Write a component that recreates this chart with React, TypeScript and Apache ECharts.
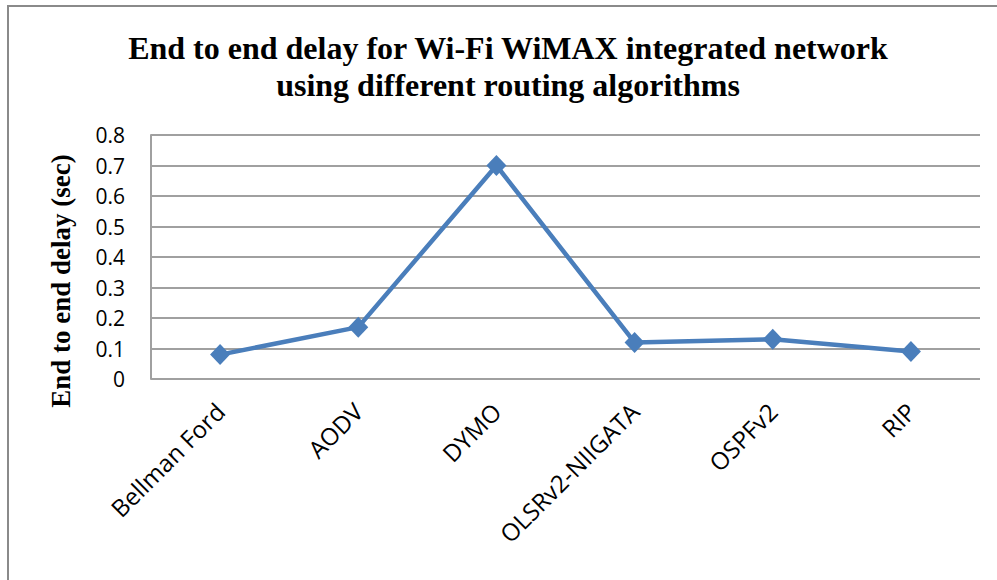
import React, { useEffect, useRef } from "react";
import * as echarts from "echarts";

const categories = ["Bellman Ford", "AODV", "DYMO", "OLSRv2-NIIGATA", "OSPFv2", "RIP"];
const delayValues = [0.08, 0.17, 0.7, 0.12, 0.13, 0.09];
const yTicks = [0, 0.1, 0.2, 0.3, 0.4, 0.5, 0.6, 0.7, 0.8];
const titleLines = ["End to end delay for Wi-Fi WiMAX integrated network", "using different routing algorithms"];
const yAxisTitle = "End to end delay (sec)";

export default function App() {
  const ref = useRef<HTMLDivElement>(null);
  useEffect(() => {
    document.body.style.margin = "0";
    const chart = echarts.init(ref.current!, null, { renderer: "svg" });
    chart.setOption({
      animation: false,
      backgroundColor: "#ffffff",
      graphic: [
        {
          type: "rect",
          shape: { x: 8, y: 6, width: 1200, height: 1000 },
          style: { fill: "none", stroke: "#8a8a8a", lineWidth: 2 },
          silent: true,
        },
        {
          type: "text",
          x: 508,
          y: 48,
          style: {
            text: titleLines[0],
            font: "bold 32px 'Liberation Serif', serif",
            fill: "#000",
            align: "center",
            verticalAlign: "middle",
          },
        },
        {
          type: "text",
          x: 508,
          y: 85,
          style: {
            text: titleLines[1],
            font: "bold 32px 'Liberation Serif', serif",
            fill: "#000",
            align: "center",
            verticalAlign: "middle",
          },
        },
        {
          type: "text",
          x: 61,
          y: 281,
          rotation: Math.PI / 2,
          style: {
            text: yAxisTitle,
            font: "bold 27px 'Liberation Serif', serif",
            fill: "#000",
            align: "center",
            verticalAlign: "middle",
          },
        },
      ],
      grid: { left: 151, top: 135, right: 17, bottom: 201, containLabel: false },
      xAxis: {
        type: "category",
        data: categories,
        boundaryGap: true,
        axisLine: { show: false },
        axisTick: { show: false },
        splitLine: { show: false },
        axisLabel: {
          rotate: 45,
          margin: 28,
          fontFamily: "'Open Sans', sans-serif",
          fontSize: 24,
          color: "#000",
          interval: 0,
        },
      },
      yAxis: {
        type: "value",
        min: 0,
        max: 0.8,
        interval: 0.1,
        axisLine: { show: true, lineStyle: { color: "#a0a0a0", width: 2 } },
        axisTick: { show: false },
        splitLine: { show: true, lineStyle: { color: "#a0a0a0", width: 2 } },
        axisLabel: {
          margin: 26,
          fontFamily: "'Open Sans', sans-serif",
          fontSize: 21,
          color: "#000",
          formatter: (v: number) => {
            const t = yTicks.find((x) => Math.abs(x - v) < 1e-9);
            return t === undefined ? "" : String(t);
          },
        },
      },
      series: [
        {
          type: "line",
          data: delayValues,
          symbol: "diamond",
          symbolSize: [20, 21],
          lineStyle: { color: "#4a7ebb", width: 4.5 },
          itemStyle: { color: "#4a7ebb" },
        },
      ],
    });
    return () => chart.dispose();
  }, []);
  return <div ref={ref} style={{ width: 997, height: 580 }} />;
}
